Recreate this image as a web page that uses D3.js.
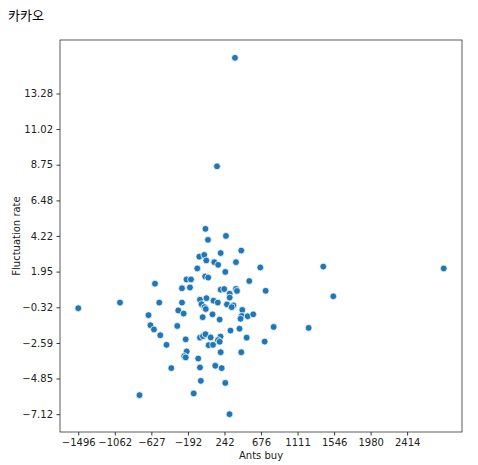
<!DOCTYPE html>
<html>
<head>
<meta charset="utf-8">
<script src="https://cdn.jsdelivr.net/npm/d3@7"></script>
<style>
  body { margin: 0; background: #fff; }
  text { font-family: "DejaVu Sans", sans-serif; }
</style>
</head>
<body>
<svg id="chart"></svg>
<script>
const width = 478, height = 465;
const margin = {top: 40, right: 16, bottom: 33, left: 60};

// Ants buy (x) and Fluctuation rate (y)
const antsBuy = [
  -1496, -1000, 367, 153, 2849, 1417, 1536, 1243, 827, 720, 732, 668, 537, -768, 302,
  -584, -533, -661, -638, -596, -521, -447, -390, -319, -307, -243, -263, -263, -168,
  -209, -156, -219, -207, -236, -219, -70, -49, -39, -124,
  16, 46, 260, -57, 2, 26, 197, 442, 121, 167, 379, -81, 252, 13, 49,
  197, 239, 379, 391, 304, 304, -49, 28, 112, 163, -31, 5, 20, 272, 349, 328, 454,
  -17, 100, 185, 447, 433, 518, 584, 314, 421, 506, -49, -13, 16, 78, 195, 165, 185,
  54, 106, 197, 442, 133, 209, 252
];
const fluctRate = [
  -0.38, -0.02, 15.55, 8.65, 2.15, 2.27, 0.38, -1.63, -1.57, -2.50, 0.73, 2.21, 1.35, -5.91, -7.12,
  1.18, -0.02, -0.82, -1.46, -1.73, -2.10, -2.71, -4.19, -1.51, -0.52, -0.72, -0.02, 0.89, 0.94,
  1.45, 1.45, -2.36, -3.13, -3.43, -3.51, -3.58, -4.15, -5.00, -5.80,
  4.67, 3.97, 4.22, 2.90, 3.01, 2.66, 3.13, 3.29, 2.55, 2.38, 2.55, 2.15, 1.93, 1.64, 1.57,
  0.80, 0.84, 0.85, 0.72, 0.54, 0.30, 0.16, 0.26, 0.10, -0.02, -0.12, -0.31, -0.43, -0.14, -0.20, -0.31, -0.49,
  -0.95, -0.77, -1.10, -0.87, -1.05, -0.89, -0.77, -1.80, -1.68, -2.25, -2.25, -2.16, -2.03, -2.24, -2.18, -2.41, -2.51,
  -2.73, -2.71, -3.18, -3.18, -4.04, -4.19, -5.13
];
const xTicks = [-1496, -1062, -627, -192, 242, 676, 1111, 1546, 1980, 2414];
const yTicks = [-7.12, -4.85, -2.59, -0.32, 1.95, 4.22, 6.48, 8.75, 11.02, 13.28];

const data = antsBuy.map((v, i) => ({x: v, y: fluctRate[i]}));

const svg = d3.select('#chart')
    .attr('width', width)
    .attr('height', height);

// matplotlib style 5% padding on each side
const pad = (ext) => { let r = ext[1] - ext[0]; return [ext[0] - r * 0.05, ext[1] + r * 0.05]; };

const x = d3.scaleLinear()
    .domain(pad(d3.extent(antsBuy)))
    .range([margin.left, width - margin.right]);
const y = d3.scaleLinear()
    .domain(pad(d3.extent(fluctRate)))
    .range([height - margin.bottom, margin.top]);

const fmt = d => String(d).replace('-', '\u2212');

let xAxis = svg.append('g')
    .attr('transform', `translate(0,${height - margin.bottom})`)
    .call(d3.axisBottom(x).tickValues(xTicks).tickFormat(fmt).tickSize(3.5).tickPadding(3.5));
let yAxis = svg.append('g')
    .attr('transform', `translate(${margin.left},0)`)
    .call(d3.axisLeft(y).tickValues(yTicks).tickFormat(fmt).tickSize(3.5).tickPadding(3.5));

[xAxis, yAxis].forEach(a => {
    a.select('.domain').remove();
    a.selectAll('.tick line').attr('stroke', '#000').attr('stroke-width', 0.8);
    a.selectAll('.tick text')
        .style('font-family', '"DejaVu Sans", sans-serif')
        .style('font-size', '10px')
        .attr('fill', '#222');
});

// frame
svg.append('rect')
    .attr('x', margin.left)
    .attr('y', margin.top)
    .attr('width', width - margin.left - margin.right)
    .attr('height', height - margin.top - margin.bottom)
    .attr('fill', 'none')
    .attr('stroke', '#333')
    .attr('stroke-width', 0.8);

svg.append('g')
    .selectAll('circle')
    .data(data)
    .join('circle')
    .attr('cx', d => x(d.x))
    .attr('cy', d => y(d.y))
    .attr('r', 3.4)
    .attr('fill', '#1f77b4')
    .attr('stroke', '#fff')
    .attr('stroke-width', 0.75);

svg.append('text')
    .attr('x', margin.left + (width - margin.left - margin.right) / 2)
    .attr('y', 459)
    .attr('text-anchor', 'middle')
    .style('font-size', '10px')
    .attr('fill', '#222')
    .text('Ants buy');

svg.append('text')
    .attr('transform', `translate(20,${margin.top + (height - margin.top - margin.bottom) / 2}) rotate(-90)`)
    .attr('text-anchor', 'middle')
    .style('font-size', '10px')
    .attr('fill', '#222')
    .text('Fluctuation rate');

svg.append('text')
    .attr('x', 8)
    .attr('y', 20)
    .style('font-family', '"Noto Sans CJK KR", sans-serif')
    .style('font-size', '13px')
    .text('카카오');
</script>
</body>
</html>
